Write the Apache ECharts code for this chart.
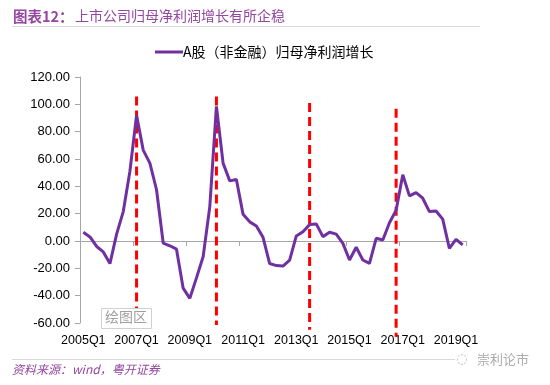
<!DOCTYPE html>
<html>
<head>
<meta charset="utf-8">
<script src="https://cdn.jsdelivr.net/npm/echarts@6/dist/echarts.min.js"></script>
<style>
html,body{margin:0;padding:0;background:#fff;}
#c{width:550px;height:385px;}
</style>
</head>
<body>
<div id="c"></div>
<script>
// categories 2005Q1 .. 2019Q2
const categories = [];
for (let y = 2005; y <= 2019; y++) {
  for (let q = 1; q <= 4; q++) {
    if (y === 2019 && q > 2) break;
    categories.push(y + 'Q' + q);
  }
}
const seriesName = 'A股（非金融）归母净利润增长';
const growth = [
  6.4, 3, -4, -8, -16.5, 5, 21.5, 51, 92, 66.5,
  57, 37.5, -1.5, -3.5, -6, -34.5, -42, -27, -11.5, 25,
  98.5, 57, 44, 45, 19.5, 14, 11, 2.7, -16.5, -18,
  -18.3, -14, 3.7, 6.8, 12, 12.5, 3.2, 6.4, 5, -1.7,
  -13.9, -4.6, -13.9, -16.4, 2, 0.7, 13.4, 22.5, 48.5, 33,
  35.4, 31.3, 21.5, 22, 16, -5.4, 1.2, -2.9
];
// red dashed marker lines: [category, top value, bottom value]
const markerCats = ['2007Q1', '2010Q1', '2013Q3', '2016Q4'];
const markerTops = [105.8, 105.8, 101, 96.7];
const markerBottoms = [-60, -61.5, -65, -70];
const yTicks = { min: -60, max: 120, interval: 20 };

const purple = '#7030A0';
const titlePurple = '#9446A0';

const redSeries = markerCats.map((c, i) => ({
  type: 'line',
  name: 'marker' + i,
  xAxisIndex: 0,
  yAxisIndex: 0,
  clip: false,
  symbol: 'none',
  silent: true,
  z: 3,
  lineStyle: { color: '#FF0000', width: 3, type: [9, 5] },
  data: [[c, markerTops[i]], [c, markerBottoms[i]]]
}));

const chart = echarts.init(document.getElementById('c'), null, { renderer: 'canvas' });
chart.setOption({
  animation: false,
  backgroundColor: '#ffffff',
  textStyle: { fontFamily: 'Liberation Sans, Noto Sans CJK SC, sans-serif' },
  grid: { left: 80, top: 77, width: 386, height: 246, containLabel: false },
  legend: {
    data: [seriesName],
    left: 150,
    top: 40,
    itemWidth: 28,
    itemHeight: 3,
    itemGap: 4,
    icon: 'rect',
    textStyle: { fontSize: 14, color: '#000', fontFamily: 'Noto Sans CJK SC, sans-serif', padding: [0,0,0,-5] }
  },
  xAxis: [
    {
      type: 'category',
      data: categories,
      boundaryGap: true,
      position: 'bottom',
      axisLine: { show: false, onZero: false },
      axisTick: { show: false },
      axisLabel: { interval: 7, color: '#000', fontSize: 12.5, margin: 11, fontFamily: 'Liberation Sans, sans-serif' },
      splitLine: { show: false }
    },
    {
      type: 'category',
      data: categories,
      boundaryGap: true,
      position: 'top',
      axisLine: { show: true, onZero: true, lineStyle: { color: '#A6A6A6', width: 1 } },
      axisTick: { show: true, inside: true, interval: 7, length: 5, lineStyle: { color: '#A6A6A6' } },
      axisLabel: { show: false },
      splitLine: { show: false }
    }
  ],
  yAxis: {
    type: 'value',
    min: yTicks.min,
    max: yTicks.max,
    interval: yTicks.interval,
    axisLine: { show: true, lineStyle: { color: '#A6A6A6', width: 1 } },
    axisTick: { show: true, length: 5, lineStyle: { color: '#A6A6A6' } },
    axisLabel: {
      color: '#000', fontSize: 13, margin: 10, fontFamily: 'Liberation Sans, sans-serif',
      formatter: v => v.toFixed(2)
    },
    splitLine: { show: false }
  },
  series: [
    {
      type: 'line',
      name: seriesName,
      xAxisIndex: 0,
      data: growth,
      symbol: 'none',
      z: 4,
      lineStyle: { color: purple, width: 3 },
      itemStyle: { color: purple }
    }
  ].concat(redSeries),
  graphic: [
    {
      type: 'text', left: 13, top: 9,
      style: { text: '图表12：', fill: titlePurple, font: 'bold 14.5px Noto Sans CJK SC' }
    },
    {
      type: 'text', left: 75, top: 9,
      style: { text: '上市公司归母净利润增长有所企稳', fill: titlePurple, font: '14px Noto Sans CJK SC' }
    },
    {
      type: 'line', shape: { x1: 12, y1: 26.5, x2: 480, y2: 26.5 },
      style: { stroke: '#D9D9D9', lineWidth: 1 }
    },
    {
      type: 'line', shape: { x1: 12, y1: 359.5, x2: 455, y2: 359.5 },
      style: { stroke: '#D9D9D9', lineWidth: 1 }
    },
    {
      type: 'text', left: 12, top: 363,
      style: {
        text: '资料来源：wind，粤开证券',
        fill: titlePurple,
        font: 'italic 12px Noto Sans CJK SC'
      }
    },
    {
      type: 'text', left: 456, top: 353,
      style: { text: '◌', fill: '#BBBBBB', font: '13px DejaVu Sans' }
    },
    {
      type: 'text', left: 477, top: 353,
      style: { text: '崇利论市', fill: '#AAAAAA', font: '13px Noto Sans CJK SC' }
    },
    {
      type: 'rect', shape: { x: 101.5, y: 308.5, width: 50, height: 20 },
      style: { fill: '#FFFFFF', stroke: '#D0D0D0', lineWidth: 1 }, z: 10
    },
    {
      type: 'text', left: 105, top: 310, z: 11,
      style: { text: '绘图区', fill: '#A0A0A0', font: '14px Noto Sans CJK SC' }
    }
  ]
});
</script>
</body>
</html>
